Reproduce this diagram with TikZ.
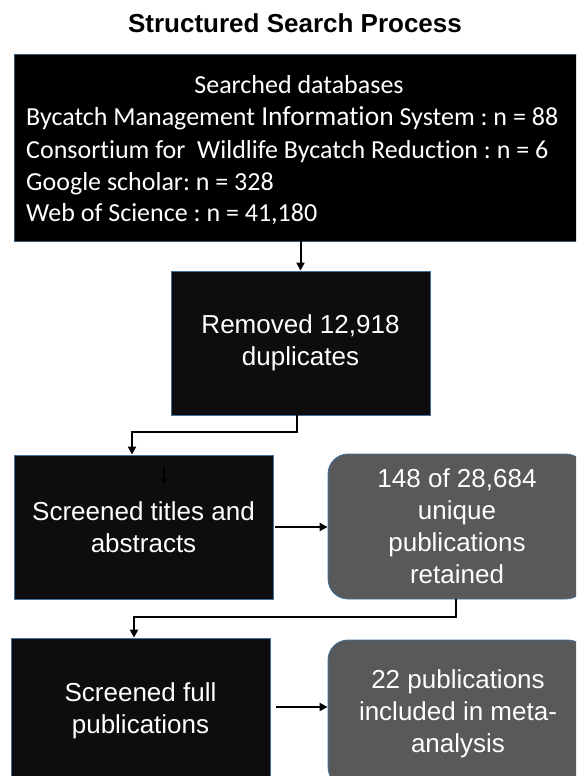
\documentclass[tikz,border=0pt]{standalone}
\usepackage{fontspec}
\setmainfont{Liberation Sans}
\newfontfamily\calib[Ligatures=NoCommon]{Carlito}
\usetikzlibrary{arrows.meta,calc}
\frenchspacing
\definecolor{edgeblue}{HTML}{41719C}
\definecolor{boxgray}{HTML}{595959}
\definecolor{nearblack}{HTML}{0D0D0D}
\tikzset{
  sqbox/.style={draw=edgeblue, line width=0.8pt, fill=nearblack, inner sep=0pt, text=white,
    align=center, font=\fontsize{26}{32}\selectfont},
  rndbox/.style={sqbox, fill=boxgray, rounded corners=20pt},
  dbtxt/.style={text=white, inner sep=0pt, font=\calib\fontsize{26}{30}\selectfont},
  arr/.style={draw=black, line width=2pt, -{Triangle[length=8pt,width=8pt]}},
  smallarr/.style={draw=black, line width=1.6pt, -{Triangle[length=6pt,width=7pt]}}
}
\begin{document}
\begin{tikzpicture}[x=1pt,y=-1pt]
\clip (0,0) rectangle (576,776);
\fill[white] (0,0) rectangle (576,776);
% title
\node[inner sep=0pt, font=\bfseries\fontsize{26}{30}\selectfont] (title) at (295,23) {Structured Search Process};
% searched databases box
\node[sqbox, fill=black, draw=edgeblue!80!black, minimum width=570pt, minimum height=187pt] (db) at (299,147.5) {};
\node[dbtxt, anchor=base] (dbhead) at (299,93) {Searched databases};
\node[dbtxt, anchor=base west] (dbl1) at (26,125) {Bycatch Management{\fontsize{27.5}{30}\selectfont\ Information} System : n = 88};
\node[dbtxt, anchor=base west] (dbl2) at (26,158) {Consortium for\ \ Wildlife Bycatch Reduction : n = 6};
\node[dbtxt, anchor=base west] (dbl3) at (26,190) {Google scholar: n = 328};
\node[dbtxt, anchor=base west] (dbl4) at (26,221) {Web of Science : n = 41,180};
% boxes
\node[sqbox, minimum width=259pt, minimum height=144pt] (dup) at (300.5,343) {Removed\ 12,918\\duplicates};
\node[sqbox, minimum width=259pt, minimum height=144pt] (tia) at (143.5,527) {Screened titles and\\abstracts};
\node[rndbox, minimum width=258pt, minimum height=145pt] (ret) at (457,526.5) {148 of 28,684\\unique\\publications\\retained};
\node[sqbox, minimum width=259pt, minimum height=146pt] (full) at (140.5,711) {Screened full\\publications};
\node[rndbox, minimum width=260pt, minimum height=147pt] (mpub) at (458,713.5) {22 publications\\included in meta-\\analysis};
% connectors
\draw[arr] (dup.north |- db.south) -- (dup.north);
\draw[arr] ([xshift=-3.5pt]dup.south) -- ++(0,17) -| ([xshift=-11.5pt]tia.north);
\coordinate (sa1) at (164,467);
\coordinate (sa2) at (164,484);
\draw[smallarr] (sa1) -- (sa2);
\coordinate (a3) at ([xshift=2pt]tia.east);
\draw[arr] (a3) -- (a3 -| ret.west);
\draw[arr] ([xshift=-1pt]ret.south) -- ++(0,18) -| ([xshift=-6.5pt]full.north);
\coordinate (a5) at ([xshift=6pt,yshift=4pt]full.east);
\draw[arr] (a5) -- (a5 -| mpub.west);
\end{tikzpicture}
\end{document}
